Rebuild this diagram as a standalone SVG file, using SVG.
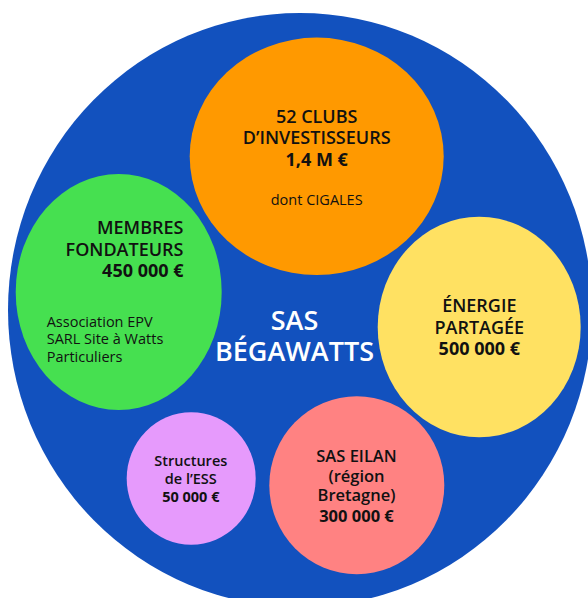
<svg xmlns="http://www.w3.org/2000/svg" width="588" height="598" viewBox="0 0 588 598">
  <style>
    text { font-family: "Open Sans", "Noto Sans", "Liberation Sans", sans-serif; fill: #111111; }
    .t { font-size: 18px; font-weight: 600; text-anchor: middle; }
    .v { font-size: 18px; font-weight: 700; text-anchor: middle; }
    .r { font-size: 14.5px; font-weight: 400; }
    .m { text-anchor: middle; }
    .e { text-anchor: end; }
    .main { font-size: 27px; font-weight: 600; fill: #ffffff; text-anchor: middle; }
  </style>
  <rect x="0" y="0" width="588" height="598" fill="#ffffff"/>
  <g id="sas-begawatts">
    <ellipse cx="300" cy="310" rx="292" ry="297" fill="#1251BE"/>
    <text class="main" x="294.5" y="329.5">SAS</text>
    <text class="main" x="294.5" y="361">BÉGAWATTS</text>
  </g>
  <g id="clubs">
    <ellipse cx="316.7" cy="156.3" rx="127" ry="118.7" fill="#FF9900"/>
    <text class="t" x="316.7" y="122.5">52 CLUBS</text>
    <text class="t" x="316.7" y="144">D’INVESTISSEURS</text>
    <text class="v" x="316.7" y="165.5">1,4 M €</text>
    <text class="r m" x="316.7" y="205">dont CIGALES</text>
  </g>
  <g id="membres">
    <ellipse cx="118.7" cy="292" rx="103" ry="118" fill="#46E050"/>
    <text class="t e" x="183.5" y="234">MEMBRES</text>
    <text class="t e" x="183.5" y="255.7">FONDATEURS</text>
    <text class="v e" x="183.5" y="277.3">450 000 €</text>
    <text class="r" x="46.7" y="326.7">Association EPV</text>
    <text class="r" x="46.7" y="344.3">SARL Site à Watts</text>
    <text class="r" x="46.7" y="362">Particuliers</text>
  </g>
  <g id="energie">
    <ellipse cx="479.2" cy="327" rx="101.5" ry="110.3" fill="#FFE162"/>
    <text class="t" x="479.3" y="312.3">ÉNERGIE</text>
    <text class="t" x="479.3" y="333.5">PARTAGÉE</text>
    <text class="v" x="479.3" y="355">500 000 €</text>
  </g>
  <g id="eilan">
    <ellipse cx="356.8" cy="485.2" rx="87.5" ry="89" fill="#FF8282"/>
    <text class="m" x="356.5" y="461.7" font-size="16.5" font-weight="600">SAS EILAN</text>
    <text class="m" x="356.5" y="481.5" font-size="16.5" font-weight="600">(région</text>
    <text class="m" x="356.5" y="501.3" font-size="16.5" font-weight="600">Bretagne)</text>
    <text class="m" x="356.5" y="521.7" font-size="16.5" font-weight="700">300 000 €</text>
  </g>
  <g id="ess">
    <ellipse cx="191.2" cy="478.5" rx="64.5" ry="66.2" fill="#E69AFC"/>
    <text class="m" x="190.8" y="466" font-size="14.5" font-weight="600">Structures</text>
    <text class="m" x="190.8" y="484" font-size="14.5" font-weight="600">de l’ESS</text>
    <text class="m" x="190.8" y="501.7" font-size="14.5" font-weight="700">50 000 €</text>
  </g>
  <g id="connectors"/>
</svg>
